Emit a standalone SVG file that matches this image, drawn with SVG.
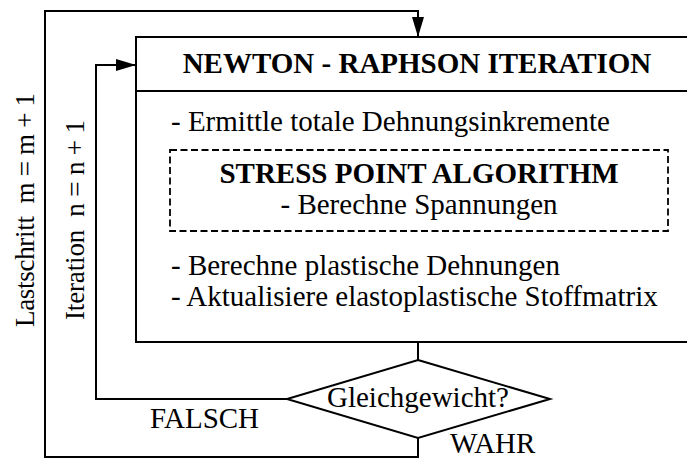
<svg xmlns="http://www.w3.org/2000/svg" width="687" height="459" viewBox="0 0 687 459">
  <style>
    .ln { fill: none; stroke: #000; stroke-width: 2; }
    .box { fill: #fff; stroke: #000; stroke-width: 2; }
    .dash { fill: none; stroke: #000; stroke-width: 1.8; stroke-dasharray: 7 3.5; }
    .t { font-family: "Liberation Serif", "Times New Roman", serif; font-size: 29px; fill: #000; }
    .v { font-size: 27px; }
    .b { font-weight: bold; }
    .c { text-anchor: middle; }
  </style>
  <defs>
    <marker id="arr" viewBox="0 0 20 12" refX="20" refY="6" markerUnits="userSpaceOnUse" markerWidth="20" markerHeight="12" orient="auto">
      <path d="M0,0 L20,6 L0,12 z" fill="#000"/>
    </marker>
  </defs>

  <g id="connectors">
    <path class="ln" d="M418,438 V457 H45 V11 H418 V37" marker-end="url(#arr)"/>
    <path class="ln" d="M287,399 H96 V65 H136" marker-end="url(#arr)"/>
    <path class="ln" d="M418,342 V360"/>
  </g>

  <g id="newton-raphson">
    <rect class="box" x="136" y="37" width="560" height="305"/>
    <line class="ln" x1="136" y1="91" x2="687" y2="91"/>
    <text class="t b c" x="417" y="73">NEWTON - RAPHSON ITERATION</text>
    <text class="t" x="171" y="131">- Ermittle totale Dehnungsinkremente</text>
    <text class="t" x="171" y="275">- Berechne plastische Dehnungen</text>
    <text class="t" x="171" y="306">- Aktualisiere elastoplastische Stoffmatrix</text>
  </g>

  <g id="stress-point">
    <rect class="dash" x="170" y="150" width="498" height="81"/>
    <text class="t b c" x="419" y="183">STRESS POINT ALGORITHM</text>
    <text class="t c" x="419" y="214">- Berechne Spannungen</text>
  </g>

  <g id="decision">
    <polygon class="box" points="418,360 550,399 418,438 287,399"/>
    <text class="t c" x="418" y="407">Gleichgewicht?</text>
  </g>

  <g id="labels">
    <text class="t" x="150" y="428">FALSCH</text>
    <text class="t" x="450" y="453">WAHR</text>
    <text class="t v" transform="translate(34,327) rotate(-90)" xml:space="preserve" textLength="234" lengthAdjust="spacing">Lastschritt  m = m + 1</text>
    <text class="t v" transform="translate(84,320) rotate(-90)" xml:space="preserve" textLength="200" lengthAdjust="spacing">Iteration  n = n + 1</text>
  </g>
</svg>
